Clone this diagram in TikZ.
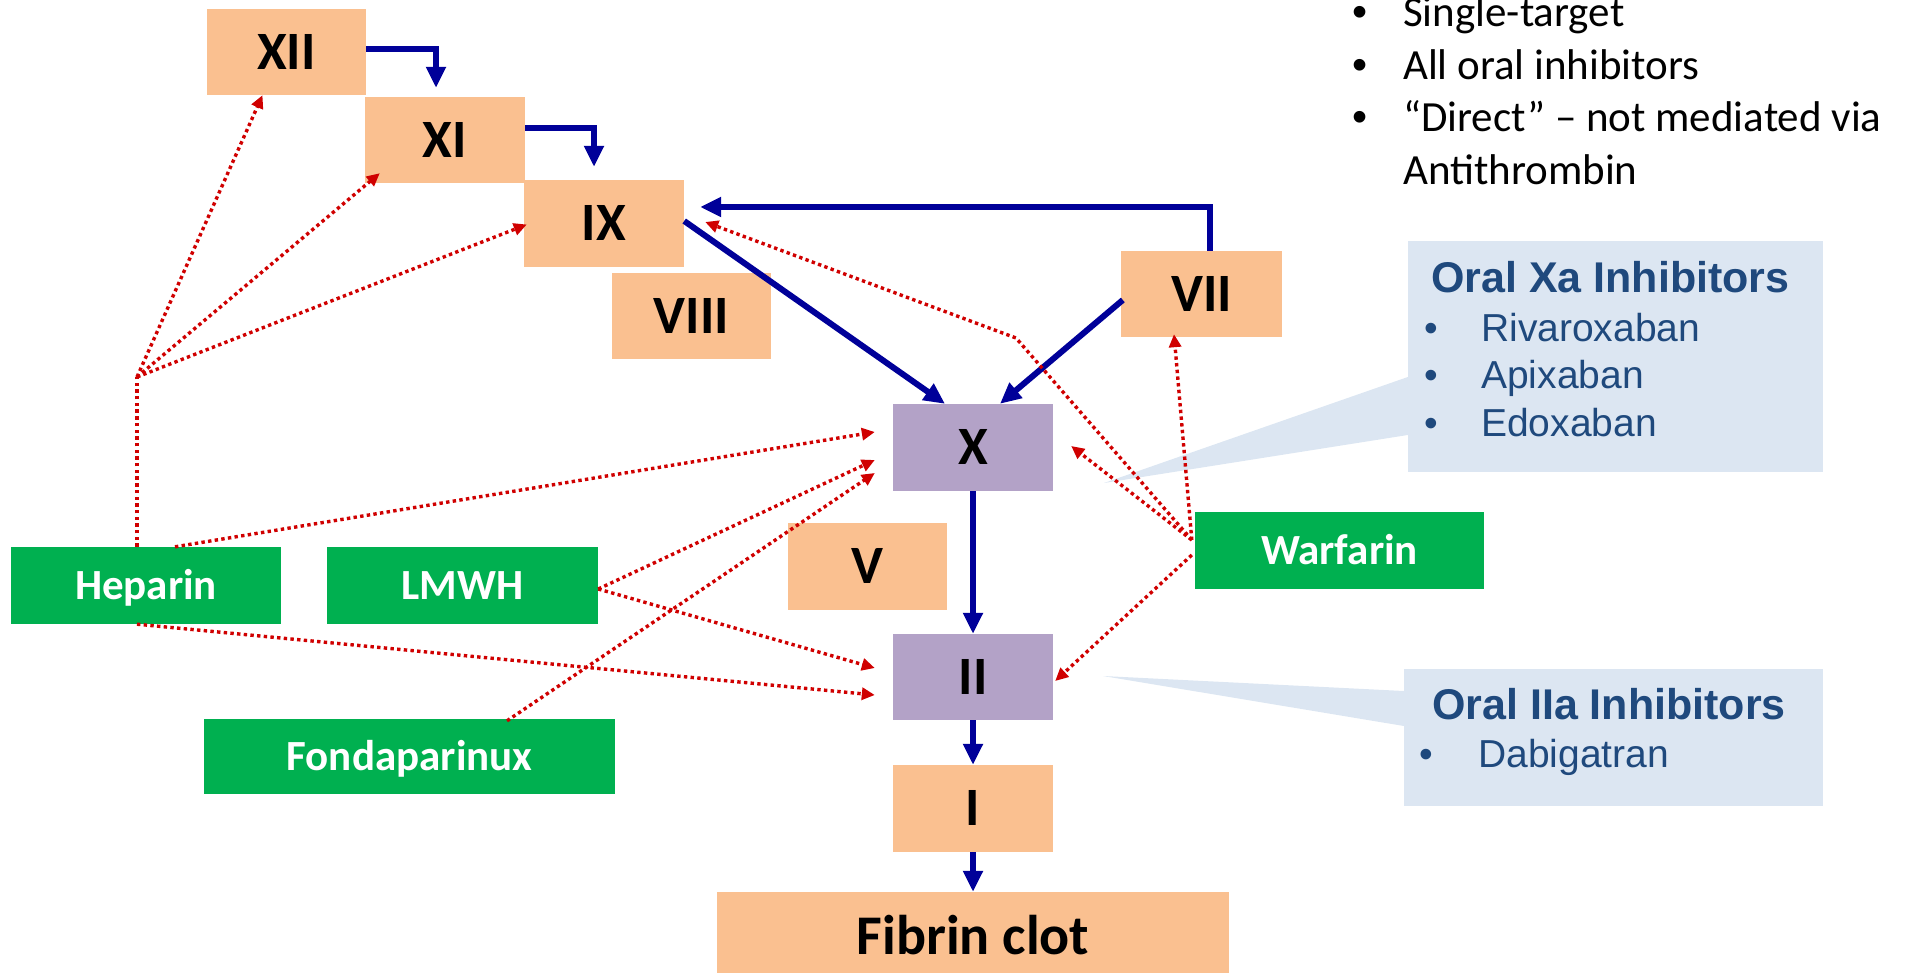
\documentclass[tikz,border=0pt]{standalone}
\usepackage{fontspec}
\setmainfont{Carlito}
\newfontfamily\arialfont{Liberation Sans}
\usetikzlibrary{arrows.meta,calc}
\definecolor{factor}{HTML}{FAC090}
\definecolor{active}{HTML}{B3A2C7}
\definecolor{drug}{HTML}{00B050}
\definecolor{calloutfill}{HTML}{DCE6F2}
\definecolor{callouttext}{HTML}{1F497D}
\definecolor{cascadeblue}{HTML}{000099}
\definecolor{inhibred}{HTML}{D00000}
\newcommand\toplistfont{\fontsize{43}{52}\selectfont}
\newcommand\calltitlefont{\arialfont\bfseries\fontsize{43}{50}\selectfont}
\newcommand\callitemfont{\arialfont\fontsize{39}{47}\selectfont}
\begin{document}
\begin{tikzpicture}[x=1pt,y=-1pt,
  every node/.style={inner sep=0pt},
  factorbox/.style={fill=factor, minimum width=160pt, minimum height=86pt,
    text height=34.8pt, text depth=0pt, font=\fontsize{54}{60}\selectfont\bfseries},
  activebox/.style={factorbox, fill=active},
  drugbox/.style={fill=drug, text=white, minimum height=77pt,
    text height=27.7pt, text depth=0pt, font=\fontsize{43}{50}\selectfont\bfseries},
  calloutbox/.style={fill=calloutfill},
  cascade/.style={draw=cascadeblue, line width=6pt, -{Triangle[length=21pt,width=19pt]}},
  inhibitline/.style={draw=inhibred, line width=3.4pt, dash pattern=on 3.4pt off 3.3pt},
  inhibit/.style={inhibitline, -{Triangle[length=13pt,width=12pt]}},
  ]
\clip (0,0) rectangle (1912,973);

% callout boxes for the oral inhibitors
\node[calloutbox, minimum width=415pt, minimum height=231pt] (xa) at (1615.5,356.5) {};
\coordinate (xatip) at (1104,483);
\fill[calloutfill] (xa.west |- 0,377) -- (xatip) -- (xa.west |- 0,435) -- cycle;
\node[calloutbox, minimum width=419pt, minimum height=137pt] (iia) at (1613.5,737.5) {};
\coordinate (iiatip) at (1103,676);
\fill[calloutfill] (iia.west |- 0,691) -- (iiatip) -- (iia.west |- 0,726) -- cycle;

\node[anchor=base west, font=\calltitlefont, text=callouttext] (xatitle) at (1431,293) {Oral Xa Inhibitors};
\node[anchor=base, font=\callitemfont, text=callouttext] (xab1) at (1431,342) {•};
\node[anchor=base west, font=\callitemfont, text=callouttext] (xa1) at (1481,342) {Rivaroxaban};
\node[anchor=base, font=\callitemfont, text=callouttext] (xab2) at (1431,389) {•};
\node[anchor=base west, font=\callitemfont, text=callouttext] (xa2) at (1481,389) {Apixaban};
\node[anchor=base, font=\callitemfont, text=callouttext] (xab3) at (1431,436) {•};
\node[anchor=base west, font=\callitemfont, text=callouttext] (xa3) at (1481,436) {Edoxaban};

\node[anchor=base west, font=\calltitlefont, text=callouttext] (iiatitle) at (1432,719) {Oral IIa Inhibitors};
\node[anchor=base, font=\callitemfont, text=callouttext] (iiab1) at (1426,767) {•};
\node[anchor=base west, font=\callitemfont, text=callouttext] (iia1) at (1478,767) {Dabigatran};

% notes at the top right
\node[anchor=base, font=\arialfont\toplistfont] (tb1) at (1360,27) {•};
\node[anchor=base west, font=\toplistfont] (t1) at (1403,27) {Single-target};
\node[anchor=base, font=\arialfont\toplistfont] (tb2) at (1360,80) {•};
\node[anchor=base west, font=\toplistfont] (t2) at (1403,80) {All oral inhibitors};
\node[anchor=base, font=\arialfont\toplistfont] (tb3) at (1360,132) {•};
\node[anchor=base west, font=\toplistfont] (t3) at (1403,132) {“Direct” – not mediated via};
\node[anchor=base west, font=\toplistfont] (t4) at (1403,185) {Antithrombin};

% coagulation factors
\node[factorbox, minimum width=159pt] (XII) at (286.5,52) {XII};
\node[factorbox] (XI) at (445,140) {XI};
\node[factorbox, minimum height=87pt] (IX) at (604,223.5) {IX};
\node[factorbox, minimum width=159pt] (VIII) at (691.5,316) {VIII};
\node[factorbox, minimum width=161pt] (VII) at (1201.5,294) {VII};
\node[activebox, minimum height=87pt] (X) at (973,447.5) {X};
\node[factorbox, minimum width=159pt, minimum height=87pt] (V) at (867.5,566.5) {V};
\node[activebox] (II) at (973,677) {II};
\node[factorbox, minimum height=87pt] (I) at (973,808.5) {I};
\node[factorbox, minimum width=512pt, minimum height=88pt, font=\fontsize{56}{62}\selectfont\bfseries,
  text height=36pt] (fibrin) at (973,936) {Fibrin clot};

% anticoagulant drugs
\node[drugbox, minimum width=270pt] (hep) at (146,585.5) {Heparin};
\node[drugbox, minimum width=271pt] (lmwh) at (462.5,585.5) {LMWH};
\node[drugbox, minimum width=411pt, minimum height=75pt] (fonda) at (409.5,756.5) {Fondaparinux};
\node[drugbox, minimum width=289pt] (warf) at (1339.5,550.5) {Warfarin};

% cascade
\draw[cascade] ($(XII.east)+(0,-3)$) -| ($(XI.north)+(-9,-9)$);
\draw[cascade] ($(XI.east)+(0,-12)$) -| ($(IX.north)+(-10,-13)$);
\draw[cascade] ($(VII.north)+(8.5,0)$) |- ($(IX.east)+(16,-16.5)$);
\draw[cascade] ($(IX.east)+(0,-2.5)$) -- ($(X.north)+(-28,0)$);
\draw[cascade] ($(VII.west)+(2,6)$) -- ($(X.north)+(27,0)$);
\draw[cascade] (X.south) -- (II.north);
\draw[cascade] (II.south) -- (I.north);
\draw[cascade] (I.south) -- (fibrin.north);

% inhibition by heparin
\coordinate (hj) at (137,377);
\draw[inhibitline] ($(hep.north)+(-9,0)$) -- (hj);
\draw[inhibit] (hj) -- ($(XII.south)+(-24,0)$);
\draw[inhibit] (hj) -- ($(XI.south west)+(15,-10)$);
\draw[inhibit] (hj) -- ($(IX.west)+(3,1)$);
\draw[inhibit] ($(hep.north)+(29,0)$) -- ($(X.west)+(-18,-15.5)$);
\draw[inhibit] ($(hep.south)+(-9,0)$) -- ($(II.west)+(-18,18)$);

% inhibition by LMWH and fondaparinux
\draw[inhibit] ($(lmwh.east)+(0,3.5)$) -- ($(X.west)+(-18,12.5)$);
\draw[inhibit] ($(lmwh.east)+(0,3.5)$) -- ($(II.west)+(-18,-9)$);
\draw[inhibit] ($(fonda.north)+(97.5,2)$) -- ($(X.west)+(-18,25.5)$);

% inhibition by warfarin
\draw[inhibit] ($(warf.west)+(-3,-10.5)$) -- ($(X.east)+(18,-1.5)$);
\draw[inhibit] ($(warf.west)+(-3,-10.5)$) -- ($(VII.south)+(-27.5,-3)$);
\draw[inhibit] ($(warf.west)+(-3,-10.5)$) -- (1016,338) -- ($(IX.east)+(21,-1.5)$);
\draw[inhibit] ($(warf.west)+(-3,4.5)$) -- ($(II.east)+(2,4)$);
\end{tikzpicture}
\end{document}
